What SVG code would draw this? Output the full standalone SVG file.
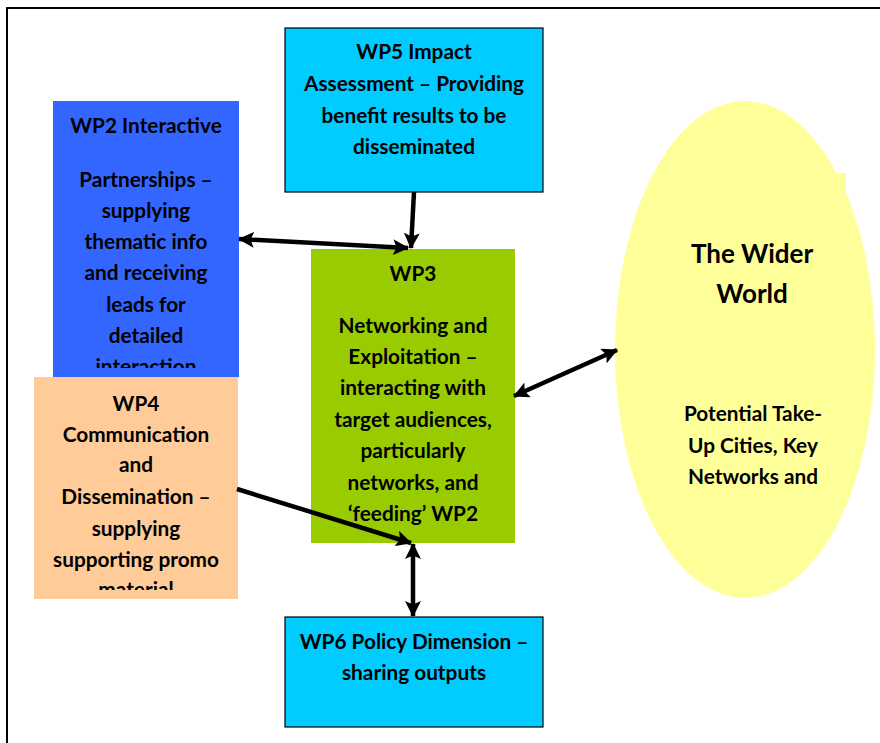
<svg xmlns="http://www.w3.org/2000/svg" width="880" height="743" viewBox="0 0 880 743">
<style>
  .t { font-family: Lato, "Open Sans", "Liberation Sans", sans-serif; font-weight: bold; font-size: 20.8px; text-anchor: middle; dominant-baseline: central; fill: #000; }
  .big { font-size: 26px; }
  .conn { stroke: #000; stroke-width: 4.5; fill: none; }
</style>
<defs>
  <marker id="ah" viewBox="0 0 16 16" refX="15" refY="8" markerWidth="16" markerHeight="16" markerUnits="userSpaceOnUse" orient="auto-start-reverse">
    <path d="M0,0 L16,8 L0,16 L3.5,8 Z" fill="#000"/>
  </marker>
  <clipPath id="c2"><rect x="53" y="101" width="186" height="267"/></clipPath>
  <clipPath id="c4"><rect x="34" y="377" width="204" height="213"/></clipPath>
</defs>
<rect x="0" y="0" width="880" height="743" fill="#fff"/>
<path d="M7,743 V8 H880" stroke="#000" stroke-width="2" fill="none"/>

<g id="wider-world">
  <ellipse cx="745" cy="349.5" rx="130" ry="248.5" fill="#FFFF99"/>
  <rect x="834" y="173" width="12" height="19" fill="#FFFF99"/>
  <text class="t big" x="752" y="253">The Wider</text>
  <text class="t big" x="752" y="293">World</text>
  <text class="t" x="753" y="412">Potential Take-</text>
  <text class="t" x="753" y="444">Up Cities, Key</text>
  <text class="t" x="753" y="475">Networks and</text>
</g>

<g id="wp5">
  <rect x="285" y="28" width="258" height="164" fill="#00CCFF" stroke="#000" stroke-width="1.2"/>
  <text class="t" x="414" y="50">WP5 Impact</text>
  <text class="t" x="414" y="82">Assessment – Providing</text>
  <text class="t" x="414" y="114">benefit results to be</text>
  <text class="t" x="414" y="145">disseminated</text>
</g>

<g id="wp2">
  <rect x="53" y="101" width="186" height="276" fill="#3366FF"/>
  <g clip-path="url(#c2)">
    <text class="t" x="146" y="124">WP2 Interactive</text>
    <text class="t" x="146" y="178">Partnerships –</text>
    <text class="t" x="146" y="209">supplying</text>
    <text class="t" x="146" y="240">thematic info</text>
    <text class="t" x="146" y="271">and receiving</text>
    <text class="t" x="146" y="303">leads for</text>
    <text class="t" x="146" y="334">detailed</text>
    <text class="t" x="146" y="365">interaction</text>
  </g>
</g>

<g id="wp4">
  <rect x="34" y="377" width="204" height="222" fill="#FFCC99"/>
  <g clip-path="url(#c4)">
    <text class="t" x="136" y="402">WP4</text>
    <text class="t" x="136" y="433">Communication</text>
    <text class="t" x="136" y="463">and</text>
    <text class="t" x="136" y="495">Dissemination –</text>
    <text class="t" x="136" y="527">supplying</text>
    <text class="t" x="136" y="558">supporting promo</text>
    <text class="t" x="136" y="588">material</text>
  </g>
</g>

<g id="wp3">
  <rect x="311" y="249" width="204" height="294" fill="#99CC00"/>
  <text class="t" x="413" y="272">WP3</text>
  <text class="t" x="413" y="324">Networking and</text>
  <text class="t" x="413" y="355">Exploitation –</text>
  <text class="t" x="413" y="386">interacting with</text>
  <text class="t" x="413" y="418">target audiences,</text>
  <text class="t" x="413" y="449">particularly</text>
  <text class="t" x="413" y="481">networks, and</text>
  <text class="t" x="413" y="512">‘feeding’ WP2</text>
</g>

<g id="wp6">
  <rect x="285" y="617" width="258" height="110" fill="#00CCFF" stroke="#000" stroke-width="1.2"/>
  <text class="t" x="414" y="640">WP6 Policy Dimension –</text>
  <text class="t" x="414" y="671">sharing outputs</text>
</g>

<g id="connectors">
  <line class="conn" x1="414" y1="192" x2="411" y2="248" marker-end="url(#ah)"/>
  <line class="conn" x1="239" y1="239" x2="408" y2="248" marker-start="url(#ah)" marker-end="url(#ah)"/>
  <line class="conn" x1="514" y1="396" x2="617" y2="350" marker-start="url(#ah)" marker-end="url(#ah)"/>
  <line class="conn" x1="237" y1="489" x2="411" y2="543" marker-end="url(#ah)"/>
  <line class="conn" x1="413" y1="544" x2="413" y2="616" marker-start="url(#ah)" marker-end="url(#ah)"/>
</g>
</svg>
